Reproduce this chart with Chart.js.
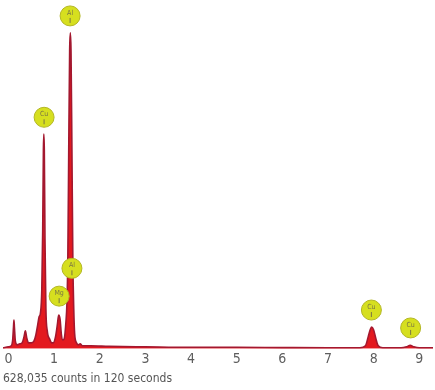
<!DOCTYPE html>
<html>
<head>
<meta charset="utf-8">
<script src="https://cdn.jsdelivr.net/npm/chart.js@4"></script>
<style>
  html, body { margin: 0; padding: 0; background: #fff; }
  #wrap { width: 435px; height: 390px; position: relative; }
</style>
</head>
<body>
<div id="wrap"><canvas id="spectrum"></canvas></div>
<script>
// EDS spectrum, energy in keV, intensity in relative counts
const energies = [
  -0.12, 0.0, 0.06, 0.09, 0.11, 0.12, 0.13, 0.15, 0.19, 0.25, 0.3, 0.34, 0.37, 0.4, 0.44,
  0.5, 0.56, 0.6, 0.64, 0.67, 0.7, 0.73, 0.75, 0.765, 0.775, 0.785, 0.8, 0.82, 0.85, 0.9,
  0.95, 0.98, 1.03, 1.07, 1.1, 1.13, 1.16, 1.19, 1.22, 1.26, 1.28, 1.3, 1.32, 1.34, 1.355,
  1.37, 1.39, 1.41, 1.43, 1.45, 1.49, 1.53, 1.57, 1.62, 1.8, 2.2, 3, 4, 5, 6, 7, 7.7,
  7.82, 7.88, 7.93, 7.96, 8.0, 8.05, 8.1, 8.2, 8.6, 8.72, 8.8, 8.88, 9.0, 9.3
];
const counts = [
  1, 2, 3, 8, 22, 29, 22, 8, 4, 5, 6, 12, 18, 11, 6,
  6, 8, 14, 24, 32, 36, 60, 120, 200, 216, 200, 110, 40, 18, 10,
  6, 6, 12, 24, 34, 30, 14, 9, 10, 28, 45, 90, 200, 300, 318,
  300, 200, 90, 40, 15, 6, 4, 5, 3, 3, 2.5, 2, 1.5, 1.5, 1.2, 1, 1,
  3, 12, 20, 22, 19, 10, 3, 1, 1, 2, 3.5, 2, 1, 1
];

const xTicks = [0, 1, 2, 3, 4, 5, 6, 7, 8, 9];

// element markers: name, energy (keV), height of marker centre
const peakNames = ['Al', 'Cu', 'Al', 'Mg', 'Cu', 'Cu'];
const peakEnergies = [1.35, 0.78, 1.39, 1.11, 7.95, 8.81];
const peakMarkY = [335, 233, 81, 53, 39, 21];

const caption = '628,035 counts in 120 seconds';

const fontFam = '"Liberation Sans Narrow", "DejaVu Sans Condensed", "Arial Narrow", sans-serif';

const points = energies.map((e, i) => ({ x: e, y: counts[i] }));

// draws the yellow element circles
const peakMarkers = {
  id: 'peakMarkers',
  afterDatasetsDraw(chart) {
    const ctx = chart.ctx;
    const xs = chart.scales.x, ys = chart.scales.y;
    ctx.save();
    peakNames.forEach((name, i) => {
      const px = xs.getPixelForValue(peakEnergies[i]);
      const py = ys.getPixelForValue(peakMarkY[i]);
      ctx.beginPath();
      ctx.arc(px, py, 10, 0, Math.PI * 2);
      ctx.fillStyle = '#d6df1f';
      ctx.fill();
      ctx.lineWidth = 1;
      ctx.strokeStyle = '#b3b624';
      ctx.stroke();
      ctx.fillStyle = '#7a7545';
      ctx.font = '7px ' + fontFam;
      ctx.textAlign = 'center';
      ctx.textBaseline = 'middle';
      ctx.fillText(name, px, py - 3);
      ctx.beginPath();
      ctx.moveTo(px, py + 2);
      ctx.lineTo(px, py + 7);
      ctx.strokeStyle = '#7a7545';
      ctx.stroke();
    });
    ctx.restore();
  }
};

new Chart(document.getElementById('spectrum'), {
  type: 'line',
  data: {
    datasets: [{
      data: points,
      borderColor: '#a3182f',
      borderWidth: 1.6,
      backgroundColor: '#e3191f',
      fill: 'origin',
      pointRadius: 0,
      cubicInterpolationMode: 'monotone'
    }]
  },
  options: {
    responsive: true,
    maintainAspectRatio: false,
    animation: false,
    layout: { padding: { left: 3, right: 2, top: 2, bottom: 2 } },
    plugins: {
      legend: { display: false },
      tooltip: { enabled: false },
      title: {
        display: true,
        text: caption,
        position: 'bottom',
        align: 'start',
        color: '#555',
        font: { family: fontFam, size: 12, weight: 'normal' },
        padding: { top: 2, bottom: 2 }
      }
    },
    scales: {
      x: {
        type: 'linear',
        min: -0.12,
        max: 9.3,
        grid: { display: false, drawTicks: false },
        border: { display: false },
        afterBuildTicks: (axis) => { axis.ticks = xTicks.map(v => ({ value: v })); },
        ticks: {
          color: '#5e5e5e',
          padding: 2,
          maxRotation: 0,
          font: { family: fontFam, size: 14 },
          callback: (v) => String(v)
        }
      },
      y: {
        display: false,
        min: 0,
        max: 349
      }
    }
  },
  plugins: [peakMarkers]
});
</script>
</body>
</html>
